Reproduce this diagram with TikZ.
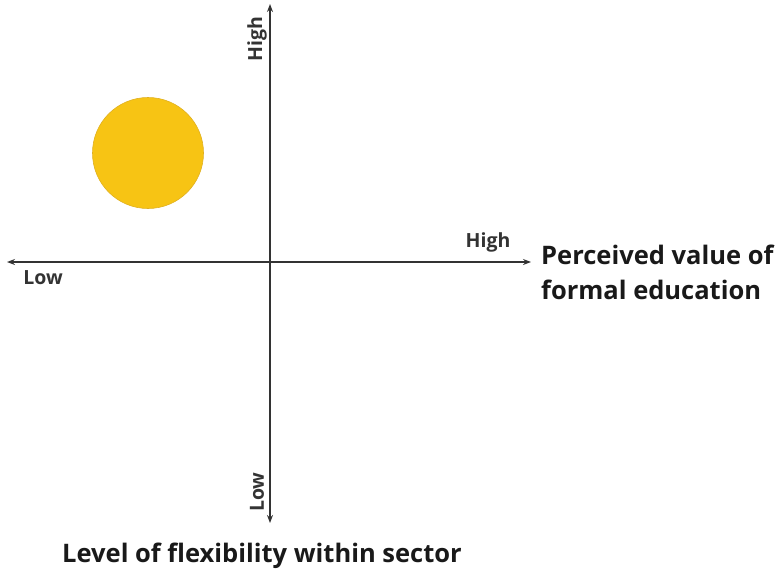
\documentclass[tikz,border=0pt]{standalone}
\usepackage{fontspec}
\setmainfont{Open Sans}
\usetikzlibrary{arrows.meta}
\definecolor{axisgray}{HTML}{333333}
\definecolor{sun}{HTML}{F7C414}
\definecolor{sunedge}{HTML}{E0B020}
\begin{document}
\begin{tikzpicture}[x=1pt,y=-1pt,
  axis/.style={draw=axisgray,line width=1.4pt,-{Stealth[length=8pt,width=6pt]}},
  small/.style={font=\bfseries\fontsize{19.5}{22}\selectfont,text=axisgray,inner sep=0pt},
  big/.style={font=\bfseries\fontsize{25.5}{35}\selectfont,text=black!90,inner sep=0pt}]
\useasboundingbox (0,0) rectangle (777,573);
\coordinate (o) at (270,262);
\coordinate (xl) at (7,262);
\coordinate (xr) at (531,262);
\coordinate (yt) at (270,4);
\coordinate (yb) at (270,523);
\draw[axis] (o) -- (xl);
\draw[axis] (o) -- (xr);
\draw[axis] (o) -- (yt);
\draw[axis] (o) -- (yb);
\node[circle,fill=sun,draw=sunedge,line width=0.6pt,minimum size=111pt,inner sep=0pt] (c) at (148,153) {};
\node[small] (lowx) at (43,278) {Low};
\node[small] (highx) at (488,242) {High};
\node[small,rotate=90] (highy) at (257,39) {High};
\node[small,rotate=90] (lowy) at (257,492) {Low};
\node[big,anchor=west,align=left] (xt) at (541,272) {Perceived value of\\formal education};
\node[big] (yt2) at (262,556) {Level of flexibility within sector};
\end{tikzpicture}
\end{document}
